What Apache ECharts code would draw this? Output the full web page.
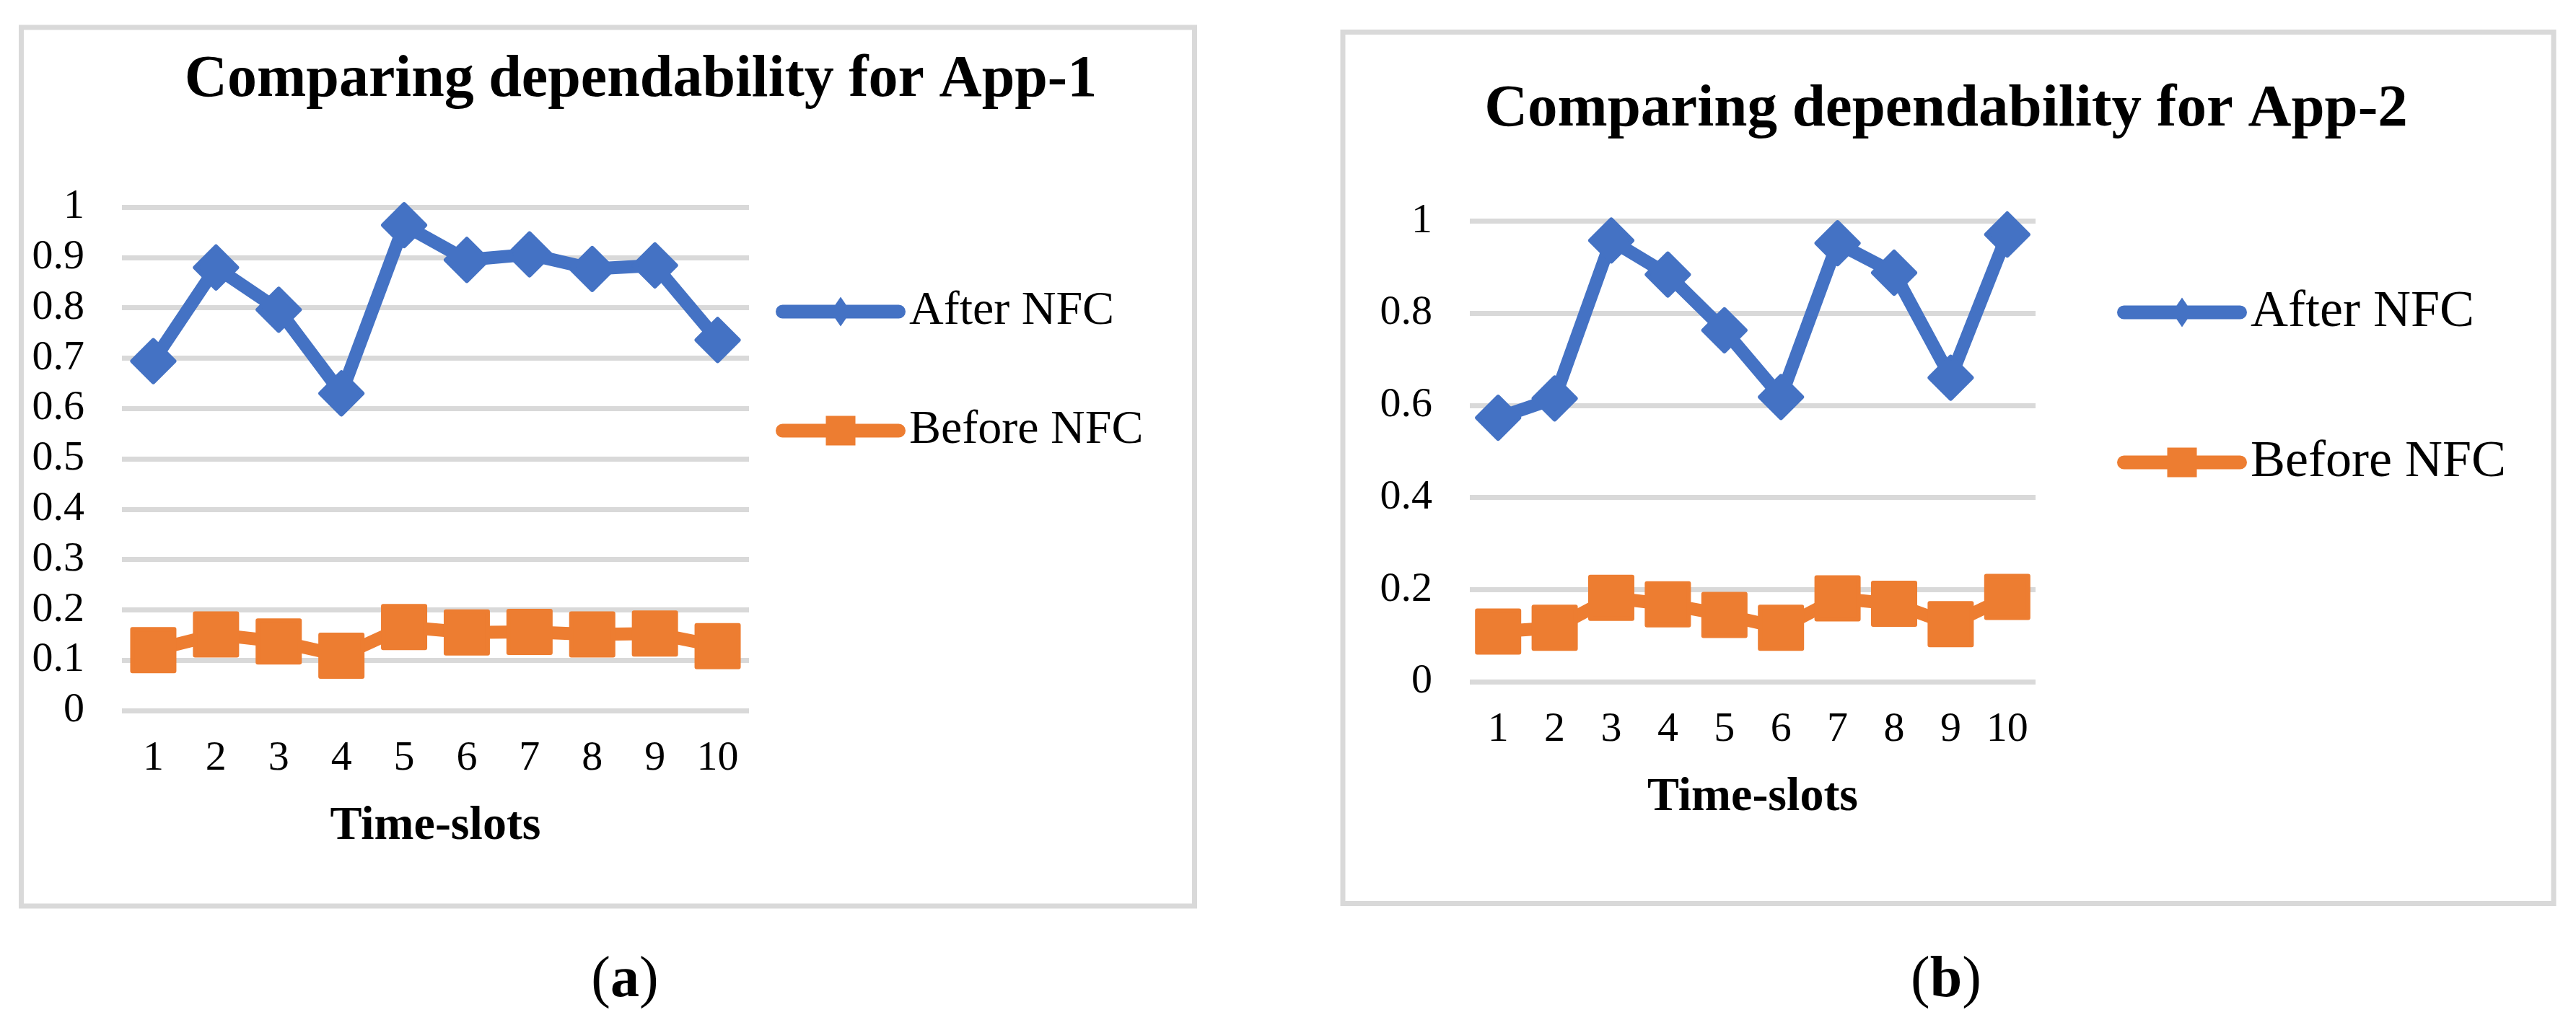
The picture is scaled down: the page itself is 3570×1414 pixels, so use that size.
<!DOCTYPE html>
<html>
<head>
<meta charset="utf-8">
<script src="https://cdn.jsdelivr.net/npm/echarts@6/dist/echarts.min.js"></script>
<style>
html,body{margin:0;padding:0;background:#ffffff;}
#c{width:3570px;height:1414px;}
</style>
</head>
<body>
<div id="c"></div>
<script>
// ---- data ----
const categories = ['1','2','3','4','5','6','7','8','9','10'];
const seriesNames = ['After NFC', 'Before NFC'];
const app1After  = [0.694, 0.880, 0.796, 0.630, 0.964, 0.895, 0.906, 0.877, 0.884, 0.736];
const app1Before = [0.120, 0.151, 0.137, 0.109, 0.166, 0.155, 0.156, 0.151, 0.153, 0.128];
const app2After  = [0.573, 0.615, 0.958, 0.884, 0.763, 0.618, 0.952, 0.888, 0.660, 0.971];
const app2Before = [0.109, 0.117, 0.182, 0.168, 0.145, 0.117, 0.181, 0.169, 0.125, 0.184];
const titles = ['Comparing dependability for App-1', 'Comparing dependability for App-2'];
const axisName = 'Time-slots';
const captions = ['a', 'b'];

// ---- style ----
const FONT = '"Liberation Serif","Times New Roman",serif';
const BLUE = '#4472C4';
const ORANGE = '#ED7D31';
const GRID = '#D9D9D9';

const iconAfter  = 'path://M9.5,11H170.5A9.5,9.5,0,0,1,170.5,30H9.5A9.5,9.5,0,0,1,9.5,11ZM90,0L104,20.5L90,41L76,20.5Z';
const iconBefore = 'path://M9.5,11H170.5A9.5,9.5,0,0,1,170.5,30H9.5A9.5,9.5,0,0,1,9.5,11ZM69.5,0H110.5V41H69.5Z';

const chart = echarts.init(document.getElementById('c'), null, {renderer: 'canvas', width: 3570, height: 1414});

function xAxisCfg(gi) {
  return {
    type: 'category', gridIndex: gi, data: categories,
    axisLine: {show: false}, axisTick: {show: false},
    axisLabel: {fontFamily: FONT, fontSize: 58, color: '#000', margin: 38},
    name: axisName, nameLocation: 'middle', nameGap: 128,
    nameTextStyle: {fontFamily: FONT, fontSize: 66, fontWeight: 'bold', color: '#000'}
  };
}
function yAxisCfg(gi, interval) {
  return {
    type: 'value', gridIndex: gi, min: 0, max: 1, interval: interval,
    axisLine: {show: false}, axisTick: {show: false},
    axisLabel: {fontFamily: FONT, fontSize: 58, color: '#000', margin: 52},
    splitLine: {show: true, lineStyle: {color: GRID, width: 7}}
  };
}
function lineSeries(name, gi, data, color, symbol) {
  return {
    type: 'line', name: name, xAxisIndex: gi, yAxisIndex: gi, data: data,
    symbol: symbol, symbolSize: 58,
    itemStyle: {color: color, borderColor: color, borderWidth: 6, borderJoin: 'round'},
    lineStyle: {color: color, width: 18, cap: 'round', join: 'round'},
    emphasis: {disabled: true}
  };
}
function legendCfg(left, top, gap, fontSize) {
  return {
    orient: 'vertical', left: left, top: top, padding: 0,
    itemWidth: 180, itemHeight: 41, itemGap: gap, selectedMode: false,
    itemStyle: {borderWidth: 0},
    textStyle: {fontFamily: FONT, fontSize: fontSize, color: '#000'},
    data: [{name: seriesNames[0], icon: iconAfter}, {name: seriesNames[1], icon: iconBefore}]
  };
}
function caption(letter, x) {
  return {
    type: 'text', x: x, y: 1360,
    style: {
      text: '{p|(}{b|' + letter + '}{p|)}',
      align: 'center', verticalAlign: 'middle',
      fontFamily: FONT, fontSize: 80,
      rich: {
        p: {fontFamily: FONT, fontSize: 80, fill: '#000'},
        b: {fontFamily: FONT, fontSize: 80, fontWeight: 'bold', fill: '#000'}
      }
    }
  };
}

const option = {
  animation: false,
  backgroundColor: '#ffffff',
  title: [
    {text: titles[0], left: 888, top: 71, textAlign: 'center', padding: 0,
     textStyle: {fontFamily: FONT, fontSize: 82, fontWeight: 'bold', color: '#000'}},
    {text: titles[1], left: 2697, top: 111, textAlign: 'center', padding: 0,
     textStyle: {fontFamily: FONT, fontSize: 83, fontWeight: 'bold', color: '#000'}}
  ],
  legend: [
    legendCfg(1075, 399, 99, 66),
    legendCfg(2934, 397, 136, 72)
  ],
  grid: [
    {left: 169, right: 3570 - 1038, top: 287, bottom: 1414 - 985},
    {left: 2037, right: 3570 - 2821, top: 306.5, bottom: 1414 - 945}
  ],
  xAxis: [xAxisCfg(0), xAxisCfg(1)],
  yAxis: [yAxisCfg(0, 0.1), yAxisCfg(1, 0.2)],
  series: [
    lineSeries(seriesNames[0], 0, app1After, BLUE, 'diamond'),
    lineSeries(seriesNames[1], 0, app1Before, ORANGE, 'rect'),
    lineSeries(seriesNames[0], 1, app2After, BLUE, 'diamond'),
    lineSeries(seriesNames[1], 1, app2Before, ORANGE, 'rect')
  ],
  graphic: [
    {type: 'rect', z: -10, shape: {x: 29.5, y: 38, width: 1626, height: 1218},
     style: {fill: 'none', stroke: GRID, lineWidth: 7}},
    {type: 'rect', z: -10, shape: {x: 1861, y: 44.5, width: 1678, height: 1208},
     style: {fill: 'none', stroke: GRID, lineWidth: 7}},
    caption(captions[0], 866),
    caption(captions[1], 2697)
  ]
};
chart.setOption(option);
</script>
</body>
</html>
